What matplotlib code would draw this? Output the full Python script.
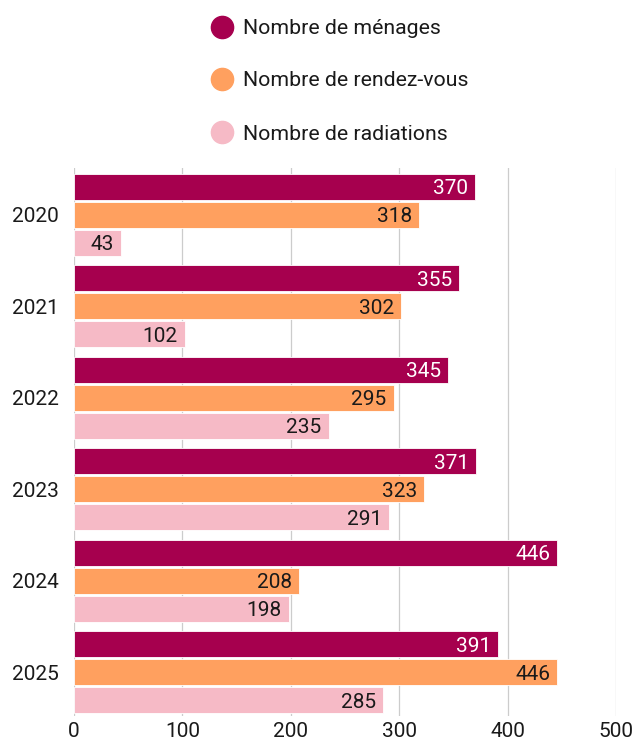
import matplotlib
matplotlib.use("Agg")
import matplotlib.pyplot as plt
from matplotlib.lines import Line2D
import numpy as np

plt.rcParams['font.family'] = ['Roboto', 'DejaVu Sans']

years = ["2020", "2021", "2022", "2023", "2024", "2025"]
menages = [370, 355, 345, 371, 446, 391]
rendezvous = [318, 302, 295, 323, 208, 446]
radiations = [43, 102, 235, 291, 198, 285]
series_names = ["Nombre de ménages", "Nombre de rendez-vous", "Nombre de radiations"]
colors = ["#A6004E", "#FFA05F", "#F6BAC6"]
text_colors = ["white", "#1a1a1a", "#1a1a1a"]
xticks = [0, 100, 200, 300, 400, 500]

FS = 15
fig = plt.figure(figsize=(6.35, 7.42), dpi=100)
W, H = 635, 742
ax = fig.add_axes([74 / W, 1 - 716 / H, (616 - 74) / W, (716 - 168) / H])

y = np.arange(len(years))
bh = 26 / 91.6
off = 28 / 91.6
series = [menages, rendezvous, radiations]
for k, (vals, c, tc) in enumerate(zip(series, colors, text_colors)):
    pos = y + (k - 1) * off
    bars = ax.barh(pos, vals, height=bh, color=c, edgecolor="white", linewidth=0.6, zorder=3)
    for b, v in zip(bars, vals):
        ax.text(v - 6.5, b.get_y() + b.get_height() / 2, str(v), ha="right",
                va="center_baseline", color=tc, fontsize=FS, zorder=4)

ax.set_xlim(0, 500)
ax.set_ylim(5.475, -0.508)
ax.set_xticks(xticks)
ax.set_xticklabels([str(t) for t in xticks], fontsize=FS, color="#1a1a1a")
ax.set_yticks(y)
ax.set_yticklabels(years, fontsize=FS, color="#1a1a1a")
ax.tick_params(axis="both", length=0)
ax.tick_params(axis="y", pad=11)
ax.tick_params(axis="x", pad=4)
ax.grid(axis="x", color="#cccccc", linewidth=0.9, zorder=0)
for s in ax.spines.values():
    s.set_visible(False)

legend_y = [27, 79, 132]
for name, c, ly in zip(series_names, colors, legend_y):
    fig.add_artist(Line2D([222 / W], [1 - ly / H], marker="o", linestyle="none", markersize=16,
                          markerfacecolor=c, markeredgecolor=c, transform=fig.transFigure))
    fig.text(243 / W, 1 - ly / H, name, ha="left", va="center_baseline", fontsize=15.3,
             color="#1a1a1a")

fig.savefig("out.png", dpi=100)
